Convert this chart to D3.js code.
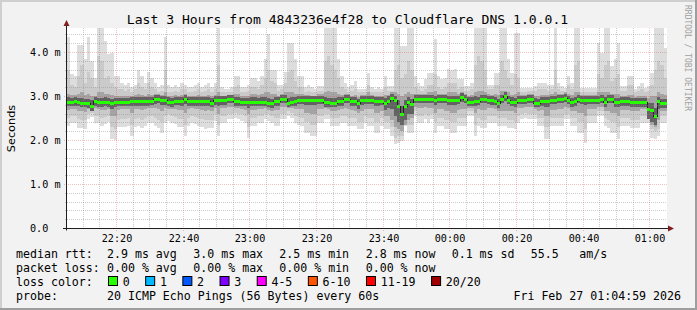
<!DOCTYPE html>
<html>
<head>
<meta charset="utf-8">
<script src="https://cdn.jsdelivr.net/npm/d3@7"></script>
<style>
  body { margin: 0; background: #f2f2f2; }
  svg text { font-family: "DejaVu Sans Mono", monospace; fill: #000; }
</style>
</head>
<body>
<script>
// one column per minute, 22:05 -> 01:05, values in ms (sorted ping ranks out of 20)
var rttMax = [
  4.35,3.50,3.45,4.15,4.15,3.85,4.34,3.80,3.40,4.60, 4.60,4.25,3.95,3.98,3.45,3.45,3.30,3.25,3.30,3.20,
  3.25,3.60,3.45,3.30,3.55,3.40,3.30,3.20,3.25,4.34, 3.25,3.20,3.25,3.20,3.30,3.25,3.20,3.20,3.25,3.30,
  3.20,3.25,3.30,3.20,3.30,4.60,3.20,3.15,3.15,3.20, 3.45,3.45,3.20,3.20,3.25,3.40,3.40,3.35,3.45,3.83,
  4.40,3.60,3.60,3.26,3.26,3.55,4.20,4.20,3.83,3.45, 3.45,3.20,3.25,3.20,3.15,3.23,3.23,4.60,4.60,4.60,
  4.60,3.83,3.45,3.30,3.20,3.25,3.35,3.15,3.15,3.15, 3.53,3.20,3.15,3.20,3.15,3.45,3.23,3.23,4.55,4.55,
  4.14,4.14,4.60,4.60,3.45,3.30,3.23,3.38,3.53,3.53, 4.29,3.45,3.38,3.40,3.61,3.60,3.61,3.38,3.38,3.23,
  3.23,3.30,4.60,4.60,4.60,4.60,3.26,3.26,3.53,3.53, 4.60,4.60,3.83,3.53,4.43,4.43,3.19,3.19,3.19,3.19,
  3.23,3.30,3.30,3.30,3.26,3.26,4.55,3.30,3.23,3.19, 3.45,3.30,4.60,4.60,3.19,3.19,3.19,3.19,3.19,4.20,
  3.98,4.55,4.55,3.68,3.83,4.20,3.23,3.23,3.45,3.45, 3.15,3.23,3.30,3.19,3.23,3.53,4.55,4.60,4.60,4.10
];
var rttP19 = [
  3.60,3.25,3.20,3.45,3.70,3.30,3.55,3.40,3.20,3.90, 3.80,3.40,3.45,3.30,3.20,3.15,3.15,3.12,3.15,3.10,
  3.15,3.30,3.20,3.15,3.30,3.20,3.15,3.10,3.12,3.60, 3.10,3.10,3.12,3.10,3.15,3.15,3.10,3.10,3.12,3.15,
  3.10,3.12,3.15,3.10,3.15,3.70,3.10,3.08,3.08,3.10, 3.20,3.25,3.10,3.10,3.12,3.20,3.20,3.15,3.25,3.40,
  3.60,3.35,3.30,3.12,3.15,3.30,3.55,3.60,3.35,3.20, 3.20,3.10,3.12,3.10,3.08,3.12,3.12,3.80,3.90,3.70,
  3.60,3.40,3.20,3.15,3.10,3.12,3.15,3.08,3.08,3.10, 3.25,3.10,3.08,3.10,3.08,3.20,3.12,3.12,3.60,3.70,
  3.40,3.50,3.80,3.60,3.20,3.15,3.12,3.15,3.25,3.25, 3.50,3.20,3.15,3.20,3.30,3.30,3.30,3.15,3.20,3.12,
  3.12,3.15,3.70,3.90,3.80,3.60,3.15,3.15,3.25,3.25, 3.80,3.60,3.40,3.25,3.50,3.40,3.10,3.10,3.12,3.12,
  3.12,3.15,3.15,3.15,3.12,3.15,3.60,3.15,3.12,3.10, 3.25,3.15,3.70,3.80,3.10,3.10,3.10,3.10,3.10,3.50,
  3.40,3.70,3.80,3.35,3.40,3.50,3.12,3.12,3.25,3.25, 3.08,3.12,3.15,3.10,3.12,3.25,3.60,3.80,3.70,3.40
];
var rttP17 = [
  3.05,3.02,3.02,3.05,3.08,3.02,3.05,3.00,3.00,3.10, 3.10,3.05,3.05,3.02,3.00,3.00,3.00,3.00,3.00,3.00,
  3.02,3.05,3.02,3.00,3.05,3.02,3.05,3.05,3.02,3.10, 3.00,3.00,3.02,3.00,3.02,3.05,3.00,3.00,3.00,3.02,
  3.00,3.00,3.02,3.00,3.02,3.10,3.00,3.00,3.02,3.02, 3.05,3.05,3.00,3.00,3.00,3.05,3.05,3.02,3.05,3.10,
  3.10,3.05,3.05,3.00,3.05,3.08,3.10,3.10,3.05,3.05, 3.05,3.02,3.02,3.00,3.00,3.05,3.05,3.10,3.12,3.10,
  3.08,3.05,3.02,3.05,3.05,3.00,3.02,2.98,3.02,3.02, 3.08,3.02,3.00,3.00,3.00,3.02,3.02,3.08,3.10,3.05,
  3.00,3.05,3.10,3.05,3.05,3.05,3.05,3.05,3.08,3.08, 3.12,3.05,3.05,3.05,3.08,3.08,3.08,3.05,3.10,3.05,
  3.00,3.02,3.10,3.12,3.12,3.10,3.05,3.02,3.05,3.02, 3.12,3.12,3.08,3.02,3.05,3.08,3.02,3.02,3.05,3.05,
  3.00,3.00,3.02,3.02,3.02,3.05,3.10,3.05,3.05,3.08, 3.05,3.02,3.10,3.10,3.02,3.02,3.02,3.02,3.02,3.08,
  3.08,3.08,3.10,3.05,3.05,3.05,3.00,3.00,3.02,3.02, 2.98,3.00,3.00,3.00,2.95,3.00,3.00,3.10,3.05,3.02
];
var rttP13 = [
  2.97,2.96,2.97,2.96,2.95,2.94,2.93,2.90,2.97,2.96, 2.96,2.97,2.95,2.93,2.96,2.96,2.96,2.96,2.96,2.97,
  2.97,2.98,2.97,2.97,2.98,2.98,3.02,3.02,3.00,3.00, 2.97,2.96,2.98,2.98,2.98,3.02,2.97,2.97,2.97,2.98,
  2.97,2.97,2.98,2.95,2.99,3.00,2.99,2.99,3.02,3.02, 2.98,2.97,2.96,2.96,2.96,2.97,2.97,2.96,2.97,2.97,
  2.95,2.94,2.98,2.97,3.02,3.02,2.95,2.97,2.98,3.00, 3.01,3.00,3.00,3.00,2.99,3.00,3.01,2.97,2.96,2.95,
  2.95,2.98,2.97,3.02,3.02,2.97,2.97,2.93,3.00,3.00, 3.01,3.01,2.98,2.98,2.98,2.95,2.99,3.05,3.01,2.91,
  2.77,2.91,2.98,2.93,3.03,3.03,3.03,3.03,3.03,3.03, 3.01,3.03,3.03,3.03,3.01,3.00,3.00,3.00,3.07,3.03,
  2.97,2.97,2.99,2.98,3.03,3.03,3.01,2.99,2.98,2.93, 3.03,3.08,3.01,2.97,2.96,3.00,3.00,3.00,3.03,3.03,
  2.95,2.94,2.97,2.97,2.97,3.00,3.01,3.03,3.03,3.05, 3.00,2.96,2.98,3.03,3.00,3.00,3.00,3.00,3.00,3.01,
  3.03,2.97,3.03,3.03,2.96,2.96,2.97,2.97,2.97,2.95, 2.95,2.95,2.95,2.95,2.85,2.83,2.73,2.98,2.93,2.93
];
var rttMedian = [
  2.87,2.87,2.88,2.87,2.85,2.85,2.83,2.78,2.88,2.86, 2.86,2.87,2.86,2.83,2.87,2.87,2.87,2.87,2.87,2.88,
  2.88,2.88,2.88,2.88,2.88,2.89,2.93,2.93,2.91,2.90, 2.87,2.86,2.89,2.89,2.89,2.93,2.88,2.88,2.88,2.88,
  2.88,2.88,2.88,2.85,2.90,2.90,2.90,2.90,2.93,2.93, 2.88,2.88,2.87,2.87,2.87,2.87,2.87,2.87,2.87,2.87,
  2.84,2.84,2.88,2.88,2.93,2.93,2.84,2.87,2.88,2.91, 2.92,2.91,2.91,2.91,2.91,2.91,2.91,2.86,2.86,2.85,
  2.85,2.88,2.88,2.93,2.93,2.88,2.88,2.83,2.91,2.91, 2.92,2.92,2.89,2.89,2.89,2.84,2.89,2.96,2.91,2.77,
  2.60,2.77,2.87,2.81,2.94,2.94,2.94,2.94,2.94,2.94, 2.91,2.94,2.94,2.94,2.91,2.91,2.91,2.91,2.98,2.94,
  2.87,2.87,2.89,2.89,2.94,2.94,2.92,2.90,2.89,2.83, 2.94,2.99,2.91,2.87,2.86,2.91,2.91,2.91,2.94,2.94,
  2.85,2.84,2.88,2.88,2.88,2.91,2.91,2.94,2.94,2.96, 2.91,2.86,2.88,2.94,2.91,2.91,2.91,2.91,2.91,2.91,
  2.94,2.86,2.94,2.94,2.86,2.86,2.88,2.88,2.88,2.86, 2.86,2.86,2.86,2.86,2.70,2.68,2.55,2.88,2.83,2.83
];
var rttP8 = [
  2.77,2.77,2.78,2.77,2.75,2.74,2.72,2.67,2.78,2.76, 2.76,2.77,2.76,2.71,2.76,2.77,2.77,2.77,2.77,2.77,
  2.78,2.78,2.77,2.78,2.78,2.79,2.82,2.83,2.80,2.80, 2.77,2.76,2.79,2.79,2.78,2.81,2.78,2.78,2.78,2.78,
  2.78,2.77,2.78,2.74,2.80,2.77,2.80,2.80,2.83,2.83, 2.78,2.78,2.77,2.77,2.73,2.77,2.77,2.77,2.77,2.77,
  2.74,2.73,2.78,2.78,2.83,2.83,2.74,2.77,2.78,2.81, 2.82,2.80,2.80,2.79,2.79,2.81,2.81,2.76,2.76,2.74,
  2.74,2.78,2.78,2.83,2.83,2.78,2.77,2.71,2.80,2.81, 2.82,2.82,2.78,2.78,2.79,2.68,2.72,2.70,2.55,2.42,
  2.35,2.45,2.60,2.60,2.84,2.84,2.84,2.84,2.84,2.83, 2.79,2.84,2.84,2.83,2.80,2.80,2.80,2.81,2.87,2.84,
  2.77,2.77,2.78,2.79,2.84,2.84,2.82,2.80,2.79,2.72, 2.83,2.88,2.81,2.77,2.75,2.81,2.81,2.81,2.84,2.84,
  2.75,2.74,2.78,2.75,2.75,2.81,2.81,2.84,2.84,2.86, 2.81,2.75,2.78,2.83,2.81,2.79,2.81,2.81,2.81,2.81,
  2.84,2.76,2.83,2.83,2.76,2.74,2.78,2.78,2.78,2.76, 2.76,2.76,2.76,2.76,2.48,2.42,2.35,2.71,2.72,2.72
];
var rttP4 = [
  2.68,2.70,2.70,2.66,2.65,2.64,2.70,2.68,2.72,2.70, 2.68,2.68,2.70,2.55,2.55,2.68,2.70,2.70,2.70,2.62,
  2.70,2.70,2.68,2.70,2.72,2.72,2.72,2.70,2.65,2.72, 2.70,2.70,2.70,2.68,2.68,2.62,2.70,2.72,2.70,2.70,
  2.68,2.66,2.68,2.65,2.72,2.60,2.72,2.72,2.75,2.75, 2.72,2.72,2.70,2.68,2.58,2.68,2.68,2.70,2.70,2.72,
  2.68,2.66,2.68,2.68,2.75,2.75,2.72,2.72,2.70,2.70, 2.70,2.62,2.62,2.58,2.58,2.70,2.70,2.72,2.70,2.66,
  2.66,2.68,2.70,2.72,2.70,2.68,2.66,2.62,2.66,2.70, 2.70,2.70,2.62,2.62,2.66,2.55,2.55,2.45,2.30,2.25,
  2.20,2.35,2.45,2.50,2.75,2.72,2.72,2.75,2.72,2.72, 2.62,2.70,2.70,2.66,2.66,2.62,2.62,2.68,2.70,2.70,
  2.72,2.72,2.62,2.70,2.68,2.68,2.72,2.72,2.70,2.66, 2.66,2.66,2.66,2.66,2.62,2.72,2.72,2.75,2.75,2.75,
  2.70,2.66,2.68,2.55,2.55,2.68,2.68,2.70,2.70,2.75, 2.72,2.66,2.66,2.62,2.62,2.55,2.70,2.70,2.70,2.75,
  2.75,2.66,2.66,2.62,2.62,2.55,2.68,2.68,2.68,2.66, 2.66,2.66,2.70,2.70,2.50,2.35,2.30,2.45,2.65,2.66
];
var rttP2 = [
  2.50,2.55,2.55,2.48,2.45,2.45,2.60,2.62,2.55,2.55, 2.50,2.52,2.55,2.30,2.25,2.45,2.48,2.48,2.50,2.35,
  2.48,2.50,2.45,2.50,2.55,2.55,2.50,2.45,2.40,2.55, 2.58,2.55,2.52,2.48,2.48,2.35,2.50,2.55,2.52,2.50,
  2.48,2.45,2.45,2.45,2.58,2.35,2.55,2.55,2.60,2.60, 2.62,2.60,2.58,2.55,2.30,2.50,2.50,2.55,2.55,2.60,
  2.58,2.55,2.50,2.50,2.60,2.60,2.65,2.62,2.55,2.52, 2.50,2.40,2.40,2.35,2.35,2.55,2.55,2.60,2.60,2.50,
  2.50,2.50,2.55,2.55,2.50,2.50,2.50,2.42,2.42,2.55, 2.50,2.50,2.40,2.40,2.50,2.42,2.42,2.30,2.05,2.10,
  2.10,2.45,2.35,2.35,2.65,2.55,2.55,2.60,2.55,2.60, 2.40,2.50,2.50,2.45,2.45,2.40,2.40,2.50,2.50,2.50,
  2.65,2.65,2.35,2.50,2.45,2.45,2.55,2.55,2.55,2.50, 2.50,2.50,2.45,2.45,2.42,2.55,2.60,2.62,2.60,2.60,
  2.60,2.50,2.50,2.30,2.30,2.50,2.50,2.50,2.50,2.60, 2.60,2.50,2.50,2.40,2.40,2.25,2.55,2.55,2.55,2.65,
  2.65,2.50,2.45,2.40,2.40,2.30,2.50,2.50,2.50,2.45, 2.45,2.45,2.55,2.55,2.50,2.25,2.20,2.25,2.55,2.55
];
var rttMin = [
  2.32,2.39,2.39,2.28,2.28,2.24,2.47,2.52,2.39,2.39, 2.32,2.36,2.40,2.02,2.00,2.30,2.30,2.30,2.32,2.09,
  2.30,2.32,2.28,2.32,2.39,2.39,2.32,2.28,2.17,2.39, 2.43,2.39,2.36,2.30,2.30,2.08,2.32,2.39,2.36,2.32,
  2.30,2.26,2.28,2.28,2.43,2.09,2.39,2.39,2.47,2.47, 2.50,2.47,2.43,2.39,2.05,2.32,2.32,2.39,2.39,2.47,
  2.43,2.39,2.32,2.32,2.47,2.47,2.55,2.50,2.39,2.35, 2.32,2.17,2.17,2.09,2.09,2.39,2.39,2.47,2.47,2.32,
  2.32,2.32,2.39,2.39,2.32,2.32,2.32,2.24,2.24,2.39, 2.32,2.32,2.17,2.17,2.32,2.24,2.24,2.09,1.90,1.94,
  1.98,2.32,2.17,2.17,2.55,2.39,2.39,2.47,2.39,2.47, 2.17,2.32,2.32,2.24,2.24,2.17,2.17,2.32,2.32,2.32,
  2.55,2.55,2.09,2.32,2.28,2.28,2.39,2.39,2.39,2.32, 2.32,2.32,2.28,2.28,2.24,2.39,2.47,2.50,2.47,2.47,
  2.47,2.32,2.32,2.02,2.02,2.32,2.32,2.32,2.32,2.47, 2.47,2.32,2.32,2.17,2.17,1.94,2.39,2.39,2.39,2.55,
  2.55,2.32,2.28,2.17,2.17,2.02,2.32,2.32,2.32,2.28, 2.28,2.28,2.39,2.39,2.39,2.05,2.02,2.10,2.39,2.39
];

var lossLabels = ["0", "1", "2", "3", "4-5", "6-10", "11-19", "20/20"];
var lossColors = ["#26ff00", "#00b8ff", "#0059ff", "#7e00ff", "#ff00ff", "#ff5500", "#ff0000", "#a00000"];
var rttStats = ["2.9 ms avg", "3.0 ms max", "2.5 ms min", "2.8 ms now", "0.1 ms sd", "55.5", "am/s"];
var lossStats = ["0.00 % avg", "0.00 % max", "0.00 % min", "0.00 % now"];
var yTicks = [0, 1, 2, 3, 4];

var width = 697, height = 310;
var svg = d3.select("body").append("svg")
    .attr("width", width)
    .attr("height", height);

// background + shaded frame
svg.append("rect").attr("width", width).attr("height", height).attr("fill", "#f2f2f2");
svg.append("rect").attr("x", 0).attr("y", 0).attr("width", width).attr("height", 2).attr("fill", "#cfcfcf");
svg.append("rect").attr("x", 0).attr("y", 0).attr("width", 2).attr("height", height).attr("fill", "#cfcfcf");
svg.append("rect").attr("x", 0).attr("y", height - 2).attr("width", width).attr("height", 2).attr("fill", "#9e9e9e");
svg.append("rect").attr("x", width - 2).attr("y", 0).attr("width", 2).attr("height", height).attr("fill", "#9e9e9e");

var plotLeft = 67, plotTop = 28, plotW = 600, plotH = 200;
var t0 = new Date(Date.UTC(2026, 1, 26, 22, 5));
var t1 = d3.utcMinute.offset(t0, 180);
var times = rttMedian.map(function (d, i) { return d3.utcMinute.offset(t0, i); });

var x = d3.scaleUtc().domain([t0, t1]).range([plotLeft, plotLeft + plotW]);
var y = d3.scaleLinear().domain([0, plotH / 44]).range([plotTop + plotH, plotTop]);

svg.append("rect").attr("x", plotLeft).attr("y", plotTop).attr("width", plotW).attr("height", plotH).attr("fill", "#fff");
svg.append("clipPath").attr("id", "cv").append("rect")
    .attr("x", plotLeft).attr("y", plotTop).attr("width", plotW).attr("height", plotH);

var plot = svg.append("g").attr("clip-path", "url(#cv)").attr("shape-rendering", "crispEdges");

function colX(i) { return x(times[i]); }
function colW(i) { return x(d3.utcMinute.offset(times[i], 1)) - x(times[i]); }

// smoke bands, outermost first
var bands = [
    { lo: rttMin, hi: rttMax, color: "#dddddd" },
    { lo: rttP2, hi: rttP19, color: "#cacaca" },
    { lo: rttP4, hi: rttP17, color: "#a4a4a4" },
    { lo: rttP8, hi: rttP13, color: "#626262" }
];
bands.forEach(function (b) {
    plot.append("g").selectAll("rect")
        .data(d3.range(times.length))
        .join("rect")
        .attr("x", colX)
        .attr("width", colW)
        .attr("y", function (i) { return y(b.hi[i]); })
        .attr("height", function (i) { return y(b.lo[i]) - y(b.hi[i]); })
        .attr("fill", b.color);
});

// median: dark step line + loss coloured bar
var stepData = rttMedian.map(function (d, i) { return [times[i], d]; });
stepData.push([t1, rttMedian[rttMedian.length - 1]]);
plot.append("path")
    .attr("d", d3.line().curve(d3.curveStepAfter)
        .x(function (d) { return x(d[0]); })
        .y(function (d) { return Math.round(y(d[1])) + 0.5; })(stepData))
    .attr("fill", "none")
    .attr("stroke", "#202020")
    .attr("stroke-width", 1);
plot.append("g").selectAll("rect")
    .data(d3.range(times.length))
    .join("rect")
    .attr("x", colX)
    .attr("width", colW)
    .attr("y", function (i) { return Math.round(y(rttMedian[i])) - 1; })
    .attr("height", 3)
    .attr("fill", lossColors[0]);

// grid, drawn over the smoke like rrdtool does
var grid = svg.append("g");
var minorCol = "rgba(143,143,143,0.45)", majorCol = "rgba(222,79,79,0.35)";
d3.range(1, 23).filter(function (k) { return k % 5 !== 0; }).forEach(function (k) {
    var yy = Math.round(y(k / 5)) + 0.5;
    grid.append("line").attr("x1", plotLeft - 2).attr("x2", plotLeft + plotW).attr("y1", yy).attr("y2", yy)
        .attr("stroke", minorCol).attr("stroke-dasharray", "1,1");
});
yTicks.slice(1).forEach(function (v) {
    var yy = Math.round(y(v)) + 0.5;
    grid.append("line").attr("x1", plotLeft - 3).attr("x2", plotLeft + plotW).attr("y1", yy).attr("y2", yy)
        .attr("stroke", majorCol).attr("stroke-dasharray", "1,1");
});
d3.utcMinute.every(5).range(d3.utcMinute.offset(t0, 1), t1).forEach(function (t) {
    var major = t.getUTCMinutes() % 20 === 0;
    var xx = Math.round(x(t)) - 0.5;
    grid.append("line").attr("x1", xx).attr("x2", xx).attr("y1", plotTop).attr("y2", plotTop + plotH + (major ? 3 : 2))
        .attr("stroke", major ? majorCol : minorCol).attr("stroke-dasharray", "1,1");
});

// axes with arrows
var axisCol = "#1f1f1f", arrowCol = "#801f1f";
var y0 = Math.round(y(0)) + 0.5;
svg.append("line").attr("x1", plotLeft - 4).attr("x2", plotLeft + plotW + 4).attr("y1", y0).attr("y2", y0).attr("stroke", axisCol);
svg.append("line").attr("x1", plotLeft - 0.5).attr("x2", plotLeft - 0.5).attr("y1", y0 + 2).attr("y2", plotTop - 5).attr("stroke", axisCol);
svg.append("path").attr("d", "M" + (plotLeft + plotW + 7) + "," + y0 + "l-6,-3v6z").attr("fill", arrowCol);
svg.append("path").attr("d", "M" + (plotLeft - 0.5) + "," + (plotTop - 8) + "l-3,6h6z").attr("fill", arrowCol);

// axis labels
svg.append("g").selectAll("text")
    .data(yTicks)
    .join("text")
    .attr("x", 30)
    .attr("y", function (d) { return Math.round(y(d)) + 4; })
    .style("font-size", "10.15px")
    .text(function (d) { return d === 0 ? "0.0" : d.toFixed(1) + " m"; });

svg.append("g").selectAll("text")
    .data(d3.utcMinute.every(20).range(t0, t1))
    .join("text")
    .attr("x", function (d) { return Math.round(x(d)); })
    .attr("y", 242)
    .attr("text-anchor", "middle")
    .style("font-size", "10.15px")
    .text(d3.utcFormat("%H:%M"));

svg.append("text")
    .attr("transform", "translate(15,128.5) rotate(-90)")
    .attr("text-anchor", "middle")
    .style("font-family", "'DejaVu Sans', sans-serif")
    .style("font-size", "11.3px")
    .text("Seconds");

svg.append("text")
    .attr("x", 347.5).attr("y", 24)
    .attr("text-anchor", "middle")
    .style("font-size", "13.1px")
    .text("Last 3 Hours from 4843236e4f28 to Cloudflare DNS 1.0.0.1");

svg.append("text")
    .attr("transform", "translate(685,5) rotate(90)")
    .style("font-size", "8px")
    .style("fill", "#a0a0a0")
    .text("RRDTOOL / TOBI OETIKER");

// legend
var lg = svg.append("g").style("font-size", "11.6px");
var statX = [107, 193.3, 279.3, 365.7, 451.7, 530.7, 579.3];
lg.append("text").attr("x", 16).attr("y", 258).text("median rtt:");
rttStats.forEach(function (s, i) { lg.append("text").attr("x", statX[i]).attr("y", 258).text(s); });
lg.append("text").attr("x", 16).attr("y", 272).text("packet loss:");
lossStats.forEach(function (s, i) { lg.append("text").attr("x", statX[i]).attr("y", 272).text(s); });
lg.append("text").attr("x", 16).attr("y", 286).text("loss color:");
var bx = 108;
lossLabels.forEach(function (s, i) {
    lg.append("rect").attr("x", bx + 0.5).attr("y", 276.5).attr("width", 9).attr("height", 9)
        .attr("fill", lossColors[i]).attr("stroke", "#000");
    lg.append("text").attr("x", bx + 14.7).attr("y", 286).text(s);
    bx += 14.7 + s.length * 6.98 + 15.5;
});
lg.append("text").attr("x", 16).attr("y", 300).text("probe:");
lg.append("text").attr("x", 107).attr("y", 300).text("20 ICMP Echo Pings (56 Bytes) every 60s");
lg.append("text").attr("x", 681).attr("y", 300).attr("text-anchor", "end").text("Fri Feb 27 01:04:59 2026");
</script>
</body>
</html>
